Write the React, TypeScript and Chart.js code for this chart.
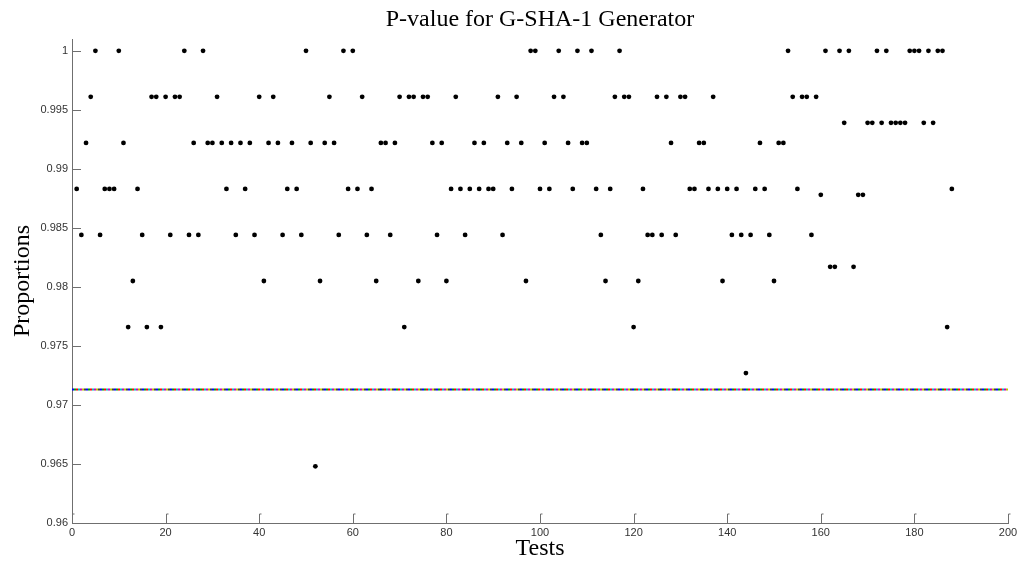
import React, { useEffect, useRef } from "react";
import { Chart, registerables } from "chart.js";

Chart.register(...registerables);

// Proportion of passing sequences for each test (tests 1..188)
const proportions: number[] = [
  0.9883, 0.9844, 0.9922, 0.9961, 1, 0.9844, 0.9883, 0.9883, 0.9883, 1,
  0.9922, 0.9766, 0.9805, 0.9883, 0.9844, 0.9766, 0.9961, 0.9961, 0.9766, 0.9961,
  0.9844, 0.9961, 0.9961, 1, 0.9844, 0.9922, 0.9844, 1, 0.9922, 0.9922,
  0.9961, 0.9922, 0.9883, 0.9922, 0.9844, 0.9922, 0.9883, 0.9922, 0.9844, 0.9961,
  0.9805, 0.9922, 0.9961, 0.9922, 0.9844, 0.9883, 0.9922, 0.9883, 0.9844, 1,
  0.9922, 0.9648, 0.9805, 0.9922, 0.9961, 0.9922, 0.9844, 1, 0.9883, 1,
  0.9883, 0.9961, 0.9844, 0.9883, 0.9805, 0.9922, 0.9922, 0.9844, 0.9922, 0.9961,
  0.9766, 0.9961, 0.9961, 0.9805, 0.9961, 0.9961, 0.9922, 0.9844, 0.9922, 0.9805,
  0.9883, 0.9961, 0.9883, 0.9844, 0.9883, 0.9922, 0.9883, 0.9922, 0.9883, 0.9883,
  0.9961, 0.9844, 0.9922, 0.9883, 0.9961, 0.9922, 0.9805, 1, 1, 0.9883,
  0.9922, 0.9883, 0.9961, 1, 0.9961, 0.9922, 0.9883, 1, 0.9922, 0.9922,
  1, 0.9883, 0.9844, 0.9805, 0.9883, 0.9961, 1, 0.9961, 0.9961, 0.9766,
  0.9805, 0.9883, 0.9844, 0.9844, 0.9961, 0.9844, 0.9961, 0.9922, 0.9844, 0.9961,
  0.9961, 0.9883, 0.9883, 0.9922, 0.9922, 0.9883, 0.9961, 0.9883, 0.9805, 0.9883,
  0.9844, 0.9883, 0.9844, 0.9727, 0.9844, 0.9883, 0.9922, 0.9883, 0.9844, 0.9805,
  0.9922, 0.9922, 1, 0.9961, 0.9883, 0.9961, 0.9961, 0.9844, 0.9961, 0.9878,
  1, 0.9817, 0.9817, 1, 0.9939, 1, 0.9817, 0.9878, 0.9878, 0.9939,
  0.9939, 1, 0.9939, 1, 0.9939, 0.9939, 0.9939, 0.9939, 1, 1,
  1, 0.9939, 1, 0.9939, 1, 1, 0.9766, 0.9883,
];

// Minimum acceptable proportion (threshold line)
const threshold = 0.9713;
const thresholdColors = ["#0000ff", "#00a000", "#ff0000", "#00bfbf", "#bf00bf", "#bfbf00", "#404040"];

const yTickValues = [0.96, 0.965, 0.97, 0.975, 0.98, 0.985, 0.99, 0.995, 1];
const yTickLabels = ["0.96", "0.965", "0.97", "0.975", "0.98", "0.985", "0.99", "0.995", "1"];
const xTickValues = [0, 20, 40, 60, 80, 100, 120, 140, 160, 180, 200];

const titleText = "P-value for G-SHA-1 Generator";
const xTitle = "Tests";
const yTitle = "Proportions";

const AXIS_COLOR = "#6f6f6f";
const SANS = "'Liberation Sans', Arial, sans-serif";
const SERIF = "'Liberation Serif', 'Times New Roman', serif";

const innerTicks = {
  id: "innerTicks",
  afterDraw(chart: any) {
    const { ctx, chartArea, scales } = chart;
    const xs = scales.x;
    const ys = scales.y;
    ctx.save();
    ctx.strokeStyle = AXIS_COLOR;
    ctx.lineWidth = 1;
    ctx.beginPath();
    for (const v of yTickValues) {
      const py = Math.round(ys.getPixelForValue(v)) + 0.5;
      ctx.moveTo(chartArea.left, py);
      ctx.lineTo(chartArea.left + 9, py);
    }
    for (const v of xTickValues) {
      const px = Math.round(xs.getPixelForValue(v)) + 0.5;
      ctx.moveTo(px, chartArea.bottom);
      ctx.lineTo(px, chartArea.bottom - 9);
      ctx.lineTo(px + 2, chartArea.bottom - 9);
    }
    ctx.stroke();
    ctx.restore();
  },
};

export default function App() {
  const ref = useRef<HTMLCanvasElement | null>(null);

  useEffect(() => {
    if (!ref.current) return;
    const points = proportions.map((v, i) => ({ x: i + 1, y: v }));
    const thresholdSets = thresholdColors.map((c, k) => ({
      type: "line" as const,
      data: [
        { x: 0, y: threshold },
        { x: 200, y: threshold },
      ],
      borderColor: c,
      borderWidth: 2,
      borderDash: [2, 12],
      borderDashOffset: -2 * k,
      pointRadius: 0,
      fill: false,
      order: 2,
    }));
    const chart = new Chart(ref.current, {
      type: "scatter",
      data: {
        datasets: [
          ...thresholdSets,
          {
            type: "scatter",
            data: points,
            backgroundColor: "#000000",
            borderColor: "#000000",
            pointRadius: 2.4,
            pointBorderWidth: 0,
            order: 1,
          },
        ] as any,
      },
      options: {
        animation: false,
        responsive: false,
        events: [],
        layout: { padding: { left: 0, right: 13, top: 0, bottom: 0 } },
        plugins: {
          legend: { display: false },
          tooltip: { enabled: false },
          title: {
            display: true,
            text: titleText,
            fullSize: false,
            color: "#000000",
            font: { family: SERIF, size: 24, weight: "normal" },
            padding: { top: 5, bottom: 5.2 },
          },
        },
        scales: {
          x: {
            type: "linear",
            min: 0,
            max: 200,
            afterFit: (s: any) => {
              s.height = 42;
            },
            afterBuildTicks: (s: any) => {
              s.ticks = xTickValues.map((v) => ({ value: v }));
            },
            grid: { display: false, drawTicks: false },
            border: { display: true, color: AXIS_COLOR, width: 1 },
            ticks: {
              color: "#333333",
              font: { family: SANS, size: 11 },
              padding: 3,
              maxRotation: 0,
              autoSkip: false,
            },
            title: {
              display: true,
              text: xTitle,
              color: "#000000",
              font: { family: SERIF, size: 24, weight: "normal" },
              padding: { top: 0, bottom: 2 },
            },
          },
          y: {
            type: "linear",
            min: 0.96,
            max: 1.001,
            afterFit: (s: any) => {
              s.width = 72;
            },
            afterBuildTicks: (s: any) => {
              s.ticks = yTickValues.map((v) => ({ value: v }));
            },
            grid: { display: false, drawTicks: false },
            border: { display: true, color: AXIS_COLOR, width: 1 },
            ticks: {
              color: "#333333",
              font: { family: SANS, size: 11 },
              padding: 4,
              autoSkip: false,
              callback: (value: any) => {
                const i = yTickValues.findIndex((t) => Math.abs(t - Number(value)) < 1e-9);
                return i >= 0 ? yTickLabels[i] : "";
              },
            },
            title: {
              display: true,
              text: yTitle,
              color: "#000000",
              font: { family: SERIF, size: 24, weight: "normal" },
              padding: { top: 8, bottom: 0 },
            },
          },
        },
      },
      plugins: [innerTicks],
    });
    return () => chart.destroy();
  }, []);

  return (
    <div style={{ position: "fixed", left: 0, top: 0, width: 1021, height: 565, background: "#ffffff" }}>
      <canvas ref={ref} width={1021} height={565} style={{ display: "block" }} />
    </div>
  );
}
